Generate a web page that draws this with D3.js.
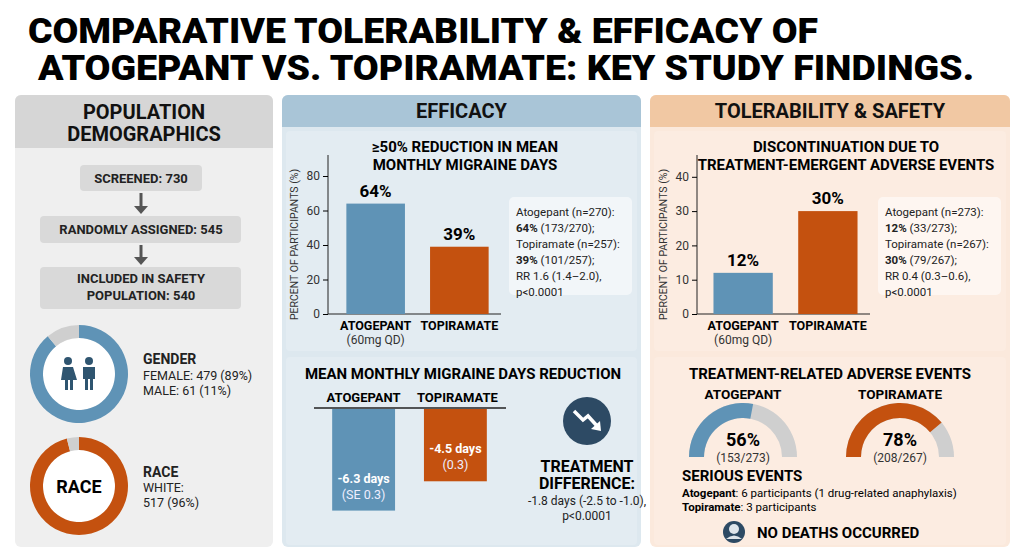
<!DOCTYPE html>
<html>
<head>
<meta charset="utf-8">
<script src="https://cdn.jsdelivr.net/npm/d3@7"></script>
<style>
  body { margin: 0; background: #fff; }
  svg text { font-family: Roboto, "Liberation Sans", sans-serif; }
</style>
</head>
<body>
<svg id="chart" width="1024" height="559"></svg>
<script>
// ---- data ----
const drugs = ["ATOGEPANT", "TOPIRAMATE"];
const responderPct = [64, 39];
const responderTicks = [0, 20, 40, 60, 80];
const responderNotes = [["Atogepant (n=270):", ""], ["64%", " (173/270);"], ["Topiramate (n=257):", ""], ["39%", " (101/257);"], ["RR 1.6 (1.4\u20132.0),", ""], ["p<0.0001", ""]];
const discontPct = [12, 30];
const discontTicks = [0, 10, 20, 30, 40];
const discontNotes = [["Atogepant (n=273):", ""], ["12%", " (33/273);"], ["Topiramate (n=267):", ""], ["30%", " (79/267);"], ["RR 0.4 (0.3\u20130.6),", ""], ["p<0.0001", ""]];
const mmdReduction = [-6.3, -4.5];
const mmdLabels = [["-6.3 days", "(SE 0.3)"], ["-4.5 days", "(0.3)"]];
const aePct = [56, 78];
const aeCounts = ["(153/273)", "(208/267)"];
const flowSteps = [["SCREENED: 730"], ["RANDOMLY ASSIGNED: 545"], ["INCLUDED IN SAFETY", "POPULATION: 540"]];
const genderPct = [89, 11];
const racePct = [96, 4];

const BLUE = "#5f93b6", ORANGE = "#c4510f", GREY = "#cfcfcf", INK = "#111";
const svg = d3.select("#chart");

// ---- title ----
svg.append("text").attr("x", 28).attr("y", 43).attr("font-size", 35).attr("font-weight", 900)
  .attr("textLength", 790).attr("lengthAdjust", "spacingAndGlyphs").text("COMPARATIVE TOLERABILITY & EFFICACY OF");
svg.append("text").attr("x", 38).attr("y", 80).attr("font-size", 35).attr("font-weight", 900)
  .attr("textLength", 936).attr("lengthAdjust", "spacingAndGlyphs").text("ATOGEPANT VS. TOPIRAMATE: KEY STUDY FINDINGS.");

// ---- panels ----
function panel(x, w, headH, headFill, bodyFill, title) {
  svg.append("rect").attr("x", x).attr("y", 95).attr("width", w).attr("height", 452).attr("rx", 6).attr("fill", bodyFill);
  svg.append("path").attr("d", `M${x},${95 + headH}V101a6,6 0 0 1 6,-6H${x + w - 6}a6,6 0 0 1 6,6V${95 + headH}Z`).attr("fill", headFill);
  title.forEach((t, i) => svg.append("text").attr("x", x + w / 2).attr("y", 95 + (title.length === 1 ? 23 : 24 + i * 22))
    .attr("text-anchor", "middle").attr("font-size", 20).attr("font-weight", 700).attr("fill", INK).text(t));
}
panel(15, 258, 53, "#d6d6d6", "#efefef", ["POPULATION", "DEMOGRAPHICS"]);
panel(282, 359, 32, "#a9c5d7", "#dde8ef", ["EFFICACY"]);
panel(650, 360, 32, "#f1c8a3", "#fbe9dc", ["TOLERABILITY & SAFETY"]);
svg.append("rect").attr("x", 286).attr("y", 131).attr("width", 351).attr("height", 220).attr("rx", 4).attr("fill", "#e3ecf2");
svg.append("rect").attr("x", 286).attr("y", 357).attr("width", 351).attr("height", 188).attr("rx", 4).attr("fill", "#e3ecf2");
svg.append("rect").attr("x", 654).attr("y", 131).attr("width", 352).attr("height", 220).attr("rx", 4).attr("fill", "#fcece1");
svg.append("rect").attr("x", 654).attr("y", 357).attr("width", 352).attr("height", 188).attr("rx", 4).attr("fill", "#fcece1");

// ---- bar chart helper ----
function barChart(opt) {
  const g = svg.append("g");
  const y = d3.scaleLinear().domain([0, opt.max]).range([314, 314 - opt.max * opt.k]);
  const x = d3.scaleBand().domain(drugs).range([opt.b0, opt.b1]).paddingInner(0.3).paddingOuter(0.1);
  const ax = g.append("g").attr("transform", `translate(${opt.x0},0)`)
    .call(d3.axisLeft(y).tickValues(opt.ticks).tickSize(5).tickSizeOuter(0));
  ax.select(".domain").attr("d", `M0,${opt.top}V314`).attr("stroke", "#222");
  ax.selectAll("text").attr("font-size", 12).attr("fill", "#333");
  g.append("line").attr("x1", opt.x0).attr("x2", opt.b1 + 4).attr("y1", 314).attr("y2", 314).attr("stroke", "#222");
  g.append("text").attr("transform", `translate(${opt.x0 - 30},${(opt.top + 314) / 2 + 10}) rotate(-90)`)
    .attr("text-anchor", "middle").attr("font-size", 10.5).attr("fill", "#333").text("PERCENT OF PARTICIPANTS (%)");
  g.selectAll(".bar").data(opt.values).join("rect")
    .attr("x", (d, i) => x(drugs[i])).attr("width", x.bandwidth())
    .attr("y", d => y(d)).attr("height", d => 314 - y(d))
    .attr("fill", (d, i) => i ? ORANGE : BLUE);
  g.selectAll(".lbl").data(opt.values).join("text")
    .attr("x", (d, i) => x(drugs[i]) + x.bandwidth() / 2).attr("y", d => y(d) - 7)
    .attr("text-anchor", "middle").attr("font-size", 17).attr("font-weight", 700).text(d => d + "%");
  drugs.forEach(d => g.append("text").attr("x", x(d) + x.bandwidth() / 2).attr("y", 330)
    .attr("text-anchor", "middle").attr("font-size", 12.5).attr("font-weight", 700).text(d));
  g.append("text").attr("x", x(drugs[0]) + x.bandwidth() / 2).attr("y", 344)
    .attr("text-anchor", "middle").attr("font-size", 12).attr("fill", "#333").text("(60mg QD)");
  opt.title.forEach((t, i) => g.append("text").attr("x", opt.tx).attr("y", 152 + i * 18)
    .attr("text-anchor", "middle").attr("font-size", 15).attr("font-weight", 700).text(t));
  g.append("rect").attr("x", opt.bx).attr("y", 197).attr("width", 123).attr("height", 98).attr("rx", 5).attr("fill", "#fff").attr("opacity", 0.55);
  opt.notes.forEach((n, i) => {
    const t = g.append("text").attr("x", opt.bx + 7).attr("y", 216 + i * 16).attr("font-size", 11.5).attr("fill", "#222");
    if (n[1]) { t.append("tspan").attr("font-weight", 700).text(n[0]); t.append("tspan").text(n[1]); }
    else t.text(n[0]);
  });
}
barChart({ x0: 328, b0: 338, b1: 497, max: 90, k: 1.725, top: 155, ticks: responderTicks, values: responderPct,
  title: ["\u226550% REDUCTION IN MEAN", "MONTHLY MIGRAINE DAYS"], tx: 465, bx: 509, notes: responderNotes });
barChart({ x0: 697, b0: 705, b1: 866, max: 45, k: 3.43, top: 155, ticks: discontTicks, values: discontPct,
  title: ["DISCONTINUATION DUE TO", "TREATMENT-EMERGENT ADVERSE EVENTS"], tx: 846, bx: 878, notes: discontNotes });

// ---- mean monthly migraine days reduction ----
{
  const g = svg.append("g");
  g.append("text").attr("x", 463).attr("y", 379).attr("text-anchor", "middle").attr("font-size", 15).attr("font-weight", 700)
    .text("MEAN MONTHLY MIGRAINE DAYS REDUCTION");
  const x = d3.scaleBand().domain(drugs).range([323, 496]).paddingInner(0.315).paddingOuter(0.1);
  const y = d3.scaleLinear().domain([0, -7]).range([408, 522]);
  g.append("line").attr("x1", 314).attr("x2", 506).attr("y1", 408).attr("y2", 408).attr("stroke", "#222").attr("stroke-width", 1.5);
  drugs.forEach((d, i) => g.append("text").attr("x", x(d) + x.bandwidth() / 2 + (i ? 2 : 0)).attr("y", 402)
    .attr("text-anchor", "middle").attr("font-size", 13).attr("font-weight", 700).text(d));
  g.selectAll(".mb").data(mmdReduction).join("rect")
    .attr("x", (d, i) => x(drugs[i])).attr("width", x.bandwidth())
    .attr("y", 409).attr("height", d => y(d) - 409).attr("fill", (d, i) => i ? ORANGE : BLUE);
  mmdLabels.forEach((l, i) => {
    const cx = x(drugs[i]) + x.bandwidth() / 2, yb = y(mmdReduction[i]);
    g.append("text").attr("x", cx).attr("y", yb - 28).attr("text-anchor", "middle").attr("font-size", 12.5).attr("font-weight", 700).attr("fill", "#fff").text(l[0]);
    g.append("text").attr("x", cx).attr("y", yb - 12).attr("text-anchor", "middle").attr("font-size", 12.5).attr("fill", "#eef").text(l[1]);
  });
  g.append("circle").attr("cx", 587).attr("cy", 421).attr("r", 24).attr("fill", "#2d4a64");
  g.append("path").attr("d", "M574,411 L583,420 L588,416 L598,427").attr("fill", "none").attr("stroke", "#fff").attr("stroke-width", 3.5);
  g.append("path").attr("d", "M601,431 L591,429 L600,421 Z").attr("fill", "#fff");
  ["TREATMENT", "DIFFERENCE:"].forEach((t, i) => g.append("text").attr("x", 587).attr("y", 472 + i * 17)
    .attr("text-anchor", "middle").attr("font-size", 16).attr("font-weight", 700).text(t));
  ["-1.8 days (-2.5 to -1.0),", "p<0.0001"].forEach((t, i) => g.append("text").attr("x", 587).attr("y", 505 + i * 15)
    .attr("text-anchor", "middle").attr("font-size", 12).attr("fill", "#222").text(t));
}

// ---- treatment-related adverse events gauges ----
{
  const g = svg.append("g");
  g.append("text").attr("x", 830).attr("y", 379).attr("text-anchor", "middle").attr("font-size", 15).attr("font-weight", 700)
    .text("TREATMENT-RELATED ADVERSE EVENTS");
  const centers = [743, 900];
  const ang = d3.scaleLinear().domain([0, 100]).range([-Math.PI / 2, Math.PI / 2]);
  const arc = d3.arc().innerRadius(39).outerRadius(54);
  aePct.forEach((p, i) => {
    const gg = g.append("g").attr("transform", `translate(${centers[i]},457)`);
    gg.append("path").attr("d", arc({ startAngle: ang(0), endAngle: ang(100) })).attr("fill", GREY);
    gg.append("path").attr("d", arc({ startAngle: ang(0), endAngle: ang(p) })).attr("fill", i ? ORANGE : BLUE);
    gg.append("text").attr("y", -11).attr("text-anchor", "middle").attr("font-size", 18).attr("font-weight", 700).text(p + "%");
    gg.append("text").attr("y", 5).attr("text-anchor", "middle").attr("font-size", 12).attr("fill", "#333").text(aeCounts[i]);
    g.append("text").attr("x", centers[i]).attr("y", 399).attr("text-anchor", "middle").attr("font-size", 13.5).attr("font-weight", 700).text(drugs[i]);
  });
  g.append("text").attr("x", 682).attr("y", 481).attr("font-size", 15).attr("font-weight", 700).text("SERIOUS EVENTS");
  const s1 = g.append("text").attr("x", 682).attr("y", 497).attr("font-size", 11.5);
  s1.append("tspan").attr("font-weight", 700).text("Atogepant"); s1.append("tspan").text(": 6 participants (1 drug-related anaphylaxis)");
  const s2 = g.append("text").attr("x", 682).attr("y", 511).attr("font-size", 11.5);
  s2.append("tspan").attr("font-weight", 700).text("Topiramate"); s2.append("tspan").text(": 3 participants");
  g.append("circle").attr("cx", 734).attr("cy", 532).attr("r", 11).attr("fill", "#2d4a64");
  g.append("circle").attr("cx", 734).attr("cy", 529).attr("r", 5).attr("fill", "#dfe6ec");
  g.append("path").attr("d", "M726,539 Q734,532 742,539 Z").attr("fill", "#dfe6ec");
  g.append("text").attr("x", 757).attr("y", 538).attr("font-size", 15).attr("font-weight", 700).text("NO DEATHS OCCURRED");
}

// ---- population flow ----
{
  const g = svg.append("g");
  const boxes = [{ x: 80, y: 165, w: 122, h: 26 }, { x: 40, y: 216, w: 201, h: 27 }, { x: 40, y: 267, w: 201, h: 42 }];
  flowSteps.forEach((lines, i) => {
    const b = boxes[i];
    g.append("rect").attr("x", b.x).attr("y", b.y).attr("width", b.w).attr("height", b.h).attr("rx", 4).attr("fill", "#d9d9d9");
    lines.forEach((t, j) => g.append("text").attr("x", 141).attr("y", b.y + 18 + j * 17 - (lines.length > 1 ? 2 : 0))
      .attr("text-anchor", "middle").attr("font-size", 13).attr("font-weight", 700).attr("fill", "#222").text(t));
    if (i < 2) {
      const y0 = b.y + b.h + 2, y1 = boxes[i + 1].y - 2;
      g.append("line").attr("x1", 141).attr("x2", 141).attr("y1", y0).attr("y2", y1 - 6).attr("stroke", "#555").attr("stroke-width", 3);
      g.append("path").attr("d", `M134,${y1 - 8}L148,${y1 - 8}L141,${y1}Z`).attr("fill", "#555");
    }
  });
  const pie = d3.pie().sort(null).value(d => d);
  const arc = d3.arc().innerRadius(36).outerRadius(49);
  [[genderPct, BLUE, 374], [racePct, ORANGE, 486]].forEach(([vals, col, cy]) => {
    const dg = g.append("g").attr("transform", `translate(79,${cy})`);
    dg.append("circle").attr("r", 36).attr("fill", "#fff");
    dg.selectAll("path").data(pie(vals)).join("path").attr("d", arc).attr("fill", (d, i) => i ? GREY : col);
  });
  const ic = g.append("g").attr("fill", "#2f5570");
  ic.append("circle").attr("cx", 68).attr("cy", 361).attr("r", 4);
  ic.append("path").attr("d", "M63,367h10l4,13h-4v10h-3v-10h-2v10h-3v-10h-4Z");
  ic.append("circle").attr("cx", 89).attr("cy", 361).attr("r", 4);
  ic.append("path").attr("d", "M83,367h12v12h-2v11h-3v-11h-2v11h-3v-11h-2Z");
  g.append("text").attr("x", 79).attr("y", 493).attr("text-anchor", "middle").attr("font-size", 18).attr("font-weight", 700).text("RACE");
  const txt = [[143, 364, "GENDER", 1], [143, 380, "FEMALE: 479 (89%)", 0], [143, 395, "MALE: 61 (11%)", 0],
               [143, 477, "RACE", 1], [143, 492, "WHITE:", 0], [143, 507, "517 (96%)", 0]];
  txt.forEach(([x, y, t, b]) => g.append("text").attr("x", x).attr("y", y).attr("font-size", b ? 14 : 12.5)
    .attr("font-weight", b ? 700 : 400).attr("fill", "#222").text(t));
}
</script>
</body>
</html>
